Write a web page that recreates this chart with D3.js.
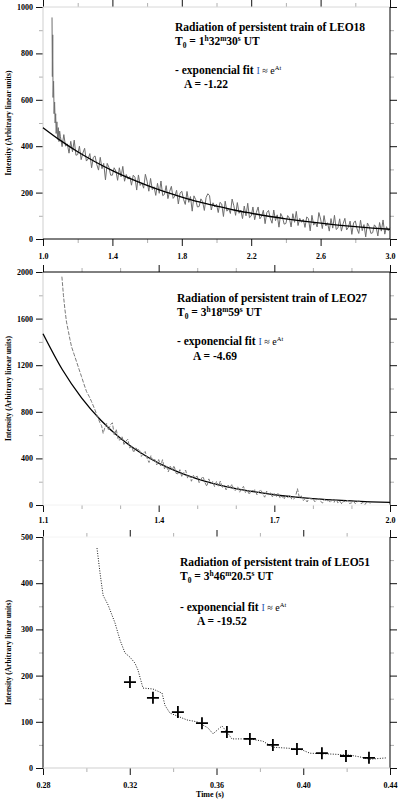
<!DOCTYPE html>
<html>
<head>
<meta charset="utf-8">
<script src="https://cdn.jsdelivr.net/npm/d3@7"></script>
<style>
  body { margin: 0; background: #fff; }
  svg { display: block; font-family: "Liberation Serif", "DejaVu Serif", serif; }
</style>
</head>
<body>
<svg width="398" height="799"></svg>
<script>
// ---------- LEO18 ----------
const leo18Onset = [[1.052, 955], [1.054, 700], [1.056, 880], [1.058, 610], [1.061, 680], [1.064, 540],
  [1.067, 590], [1.070, 500], [1.073, 540], [1.076, 455], [1.080, 505], [1.084, 430], [1.088, 480],
  [1.092, 420], [1.096, 465]];
const leo18Start = 1.10, leo18Step = 0.01;
const leo18Values = [
  443, 398, 450, 400, 410, 370, 421, 376, 426, 361,
  364, 400, 342, 371, 391, 336, 345, 368, 307, 352,
  358, 321, 297, 352, 303, 326, 255, 326, 309, 275,
  275, 307, 293, 253, 307, 268, 313, 249, 278, 258,
  269, 232, 275, 266, 211, 276, 231, 242, 219, 279,
  249, 206, 261, 213, 225, 188, 240, 197, 250, 187,
  192, 230, 174, 205, 227, 175, 185, 210, 151, 198,
  206, 171, 149, 205, 158, 183, 120, 186, 170, 138,
  140, 173, 161, 123, 179, 195, 187, 125, 156, 138,
  150, 114, 158, 151, 97, 163, 120, 132, 110, 172,
  143, 102, 157, 111, 124, 88, 142, 100, 154, 92,
  99, 138, 83, 115, 138, 87, 98, 124, 66, 114,
  123, 89, 68, 125, 79, 104, 51, 110, 95, 64,
  67, 101, 90, 52, 109, 72, 119, 58, 89, 72,
  85, 50, 95, 88, 35, 102, 60, 73, 52, 114,
  86, 45, 101, 56, 70, 34, 88, 47, 102, 41,
  48, 87, 34, 66, 89, 39, 51, 77, 20, 69,
  78, 44, 24, 81, 36, 62, 9, 69, 54, 24,
  27, 61, 51, 13, 71, 34, 82, 21, 53, 36,
  50];
const leo18FitStart = 1.0, leo18FitStep = 0.1;
const leo18Fit = [480, 425, 376, 333, 295, 261, 231, 204, 181, 160, 142, 125, 111, 98, 87, 77, 68, 60, 53, 47, 42];
const leo18XMajor = [1.0, 1.4, 1.8, 2.2, 2.6, 3.0];
const leo18XMinor = [1.2, 1.6, 2.0, 2.4, 2.8];
const leo18YMajor = [0, 200, 400, 600, 800, 1000];
const leo18YMinor = [100, 300, 500, 700, 900];

// ---------- LEO27 ----------
const leo27Onset = [[1.149, 1960], [1.153, 1800], [1.157, 1674], [1.161, 1570], [1.166, 1488], [1.170, 1420],
  [1.174, 1359], [1.181, 1290], [1.187, 1230], [1.194, 1160], [1.200, 1101], [1.207, 1030], [1.213, 973],
  [1.220, 930], [1.226, 887], [1.235, 815], [1.241, 760], [1.248, 704], [1.252, 680], [1.256, 615]];
const leo27Start = 1.26, leo27Step = 0.005;
const leo27Values = [
  660, 700, 640, 690, 705, 598, 650, 560,
  558, 588, 520, 549, 564, 490, 505, 451, 495, 474,
  477, 417, 442, 459, 402, 365, 423, 378, 392, 344,
  390, 337, 389, 311, 338, 285, 333, 301, 337, 272,
  267, 303, 242, 278, 299, 231, 253, 204, 254, 239,
  247, 192, 223, 245, 193, 160, 224, 183, 202, 157,
  202, 162, 206, 146, 170, 130, 171, 147, 178, 128,
  127, 158, 110, 141, 160, 107, 126, 90, 131, 120,
  130, 87, 112, 132, 92, 67, 119, 89, 105, 70,
  98, 69, 103, 59, 78, 50, 81, 64, 88, 52,
  49, 73, 140, 62, 78, 39, 54, 26, 59, 52,
  54, 28, 45, 57, 32, 17, 50, 31, 41, 21,
  47, 23, 52, 17, 33, 9, 36, 22, 43, 13,
  18, 34, 11, 27, 37, 12, 22, 4, 26, 21,
  17];
const leo27FitStart = 1.10, leo27FitStep = 0.05;
const leo27Fit = [1470, 1163, 920, 728, 576, 455, 360, 285, 225, 178, 141, 112, 88, 70, 55, 44, 35, 27, 22];
const leo27XMajor = [1.1, 1.4, 1.7, 2.0];
const leo27XMinor = [1.2, 1.3, 1.5, 1.6, 1.8, 1.9];
const leo27YMajor = [0, 400, 800, 1200, 1600, 2000];
const leo27YMinor = [200, 600, 1000, 1400, 1800];

// ---------- LEO51 ----------
const leo51Time = [0.3049, 0.3063, 0.3077, 0.3100, 0.3132, 0.3155, 0.3178, 0.3201, 0.3224, 0.3238, 0.3261,
  0.3307, 0.3349, 0.3362, 0.3385, 0.3464, 0.3510, 0.3560, 0.3584, 0.3625, 0.3648, 0.3671, 0.3754, 0.3814,
  0.3860, 0.3925, 0.3985, 0.4031, 0.4137, 0.4215, 0.4261, 0.4307, 0.4386];
const leo51Values = [476, 422, 374, 353, 314, 277, 249, 240, 227, 212, 173,
  171, 162, 136, 119, 104, 100, 87, 74, 91, 78, 63, 63, 58,
  45, 43, 41, 32, 30, 28, 24, 19, 22];
const leo51FitTime = [0.3201, 0.3307, 0.3422, 0.3533, 0.3648, 0.3754, 0.3860, 0.3971, 0.4086, 0.4197, 0.4303];
const leo51Fit = [186, 152, 121, 97, 78, 63, 50, 41, 32, 26, 22];
const leo51XMajor = [0.28, 0.32, 0.36, 0.40, 0.44];
const leo51XMinor = [0.30, 0.34, 0.38, 0.42];
const leo51YMajor = [0, 100, 200, 300, 400, 500];
const leo51YMinor = [50, 150, 250, 350, 450];

const svg = d3.select('svg');

function drawFrame(x, y, opt) {
  const [x0, x1] = x.range();
  const [yb, yt] = y.range();
  const g = svg.append('g');

  // minor ticks first, then major ticks with labels (all outward)
  const sides = [
    {make: () => d3.axisBottom(x), tr: `translate(0,${yb})`, minor: opt.xMinor, major: opt.xMajor, fmt: opt.xFmt, pad: opt.xPad},
    {make: () => d3.axisTop(x), tr: `translate(0,${yt})`, minor: opt.xMinor, major: opt.xMajor},
    {make: () => d3.axisLeft(y), tr: `translate(${x0},0)`, minor: opt.yMinor, major: opt.yMajor, fmt: d3.format('d'), pad: 3},
    {make: () => d3.axisRight(y), tr: `translate(${x1},0)`, minor: opt.yMinor, major: opt.yMajor}
  ];
  sides.forEach(s => {
    g.append('g').attr('transform', s.tr)
      .call(s.make().tickValues(s.minor).tickSize(4).tickFormat(''))
      .call(a => a.select('.domain').remove())
      .call(a => a.selectAll('line').attr('stroke', '#b0b0b0'));
    const maj = g.append('g').attr('transform', s.tr)
      .call(s.make().tickValues(s.major).tickSize(7).tickPadding(s.pad || 3).tickFormat(s.fmt || (() => '')))
      .attr('font-family', null)
      .attr('font-size', 8)
      .attr('font-weight', 'bold');
    maj.select('.domain').remove();
    maj.selectAll('line').attr('stroke', '#111');
    maj.selectAll('text').attr('fill', '#000');
  });

  // frame lines
  const lines = [
    [x0, yt, x0, yb, opt.left], [x0, yt, x1, yt, opt.top],
    [x1, yt, x1, yb, opt.right], [x0, yb, x1, yb, opt.bottom]
  ];
  g.selectAll('line.frame').data(lines).join('line')
    .attr('class', 'frame')
    .attr('x1', d => d[0]).attr('y1', d => d[1])
    .attr('x2', d => d[2]).attr('y2', d => d[3])
    .attr('stroke', d => d[4]).attr('stroke-width', 1);

  // y title
  svg.append('text')
    .attr('transform', `translate(8,${(yb + yt) / 2}) rotate(-90)`)
    .attr('text-anchor', 'middle')
    .attr('dominant-baseline', 'central')
    .attr('font-size', 7.5)
    .attr('font-weight', 'bold')
    .text('Intensity (Arbitrary linear units)');
}

// text line made from parts: [text, mode, style]
function richLine(x, y, parts, size) {
  const t = svg.append('text').attr('x', x).attr('y', y).attr('font-size', size);
  let off = 0;
  parts.forEach(p => {
    const [txt, mode, style] = p;
    let target = 0, fs = size;
    if (mode === 'sup') { target = -size * 0.38; fs = size * 0.65; }
    if (mode === 'sub') { target = size * 0.22; fs = size * 0.65; }
    const sp = t.append('tspan')
      .attr('dy', target - off)
      .attr('font-size', fs)
      .text(txt);
    off = target;
    if (style && style.normal) sp.attr('font-weight', 'normal');
    else sp.attr('font-weight', 'bold');
    if (style && style.fill) sp.attr('fill', style.fill);
    if (style && style.size) sp.attr('font-size', style.size * (mode ? 0.65 : 1));
  });
  return t;
}

function annotate(x, ys, ax, name, t0, aval) {
  const fs = 11.5;
  richLine(x, ys[0], [[`Radiation of persistent train of ${name}`, '']], fs);
  richLine(x, ys[1], [['T', ''], ['0', 'sub']].concat(t0).concat([[' UT', '']]), fs);
  richLine(x, ys[2], [['- exponencial fit ', ''], ['I', '', {normal: true, fill: '#2a5bb5', size: 10}],
    [' \u2248 e', '', {normal: true, size: 10}], ['At', 'sup', {normal: true, size: 10}]], fs);
  richLine(ax, ys[3], [[`A = ${aval}`, '']], fs);
}

// ---------- panel 1 ----------
{
  const x = d3.scaleLinear().domain([1.0, 3.0]).range([43, 390]);
  const y = d3.scaleLinear().domain([0, 1000]).range([239, 7]);
  drawFrame(x, y, {xMajor: leo18XMajor, xMinor: leo18XMinor, yMajor: leo18YMajor, yMinor: leo18YMinor,
    xFmt: d3.format('.1f'), xPad: 7, left: '#cfcfcf', top: '#d8d8d8', right: '#000', bottom: '#000'});
  const pts = leo18Onset.concat(leo18Values.map((v, i) => [leo18Start + i * leo18Step, v]));
  svg.append('path').datum(pts)
    .attr('fill', 'none').attr('stroke', '#6e6e6e').attr('stroke-width', 1)
    .attr('d', d3.line().x(d => x(d[0])).y(d => y(d[1])));
  svg.append('path').datum(leo18Fit.map((v, i) => [leo18FitStart + i * leo18FitStep, v]))
    .attr('fill', 'none').attr('stroke', '#000').attr('stroke-width', 1.3)
    .attr('d', d3.line().curve(d3.curveMonotoneX).x(d => x(d[0])).y(d => y(d[1])));
  annotate(175, [31, 45, 74, 88], 184, 'LEO18',
    [[' = 1', ''], ['h', 'sup'], ['32', ''], ['m', 'sup'], ['30', ''], ['s', 'sup']], '-1.22');
}

// ---------- panel 2 ----------
{
  const x = d3.scaleLinear().domain([1.1, 2.0]).range([43, 390]);
  const y = d3.scaleLinear().domain([0, 2000]).range([505, 272]);
  drawFrame(x, y, {xMajor: leo27XMajor, xMinor: leo27XMinor, yMajor: leo27YMajor, yMinor: leo27YMinor,
    xFmt: d3.format('.1f'), xPad: 5, left: '#cfcfcf', top: '#000', right: '#000', bottom: '#f2f2f2'});
  svg.append('path').datum(leo27Fit.map((v, i) => [leo27FitStart + i * leo27FitStep, v]))
    .attr('fill', 'none').attr('stroke', '#000').attr('stroke-width', 1.3)
    .attr('d', d3.line().curve(d3.curveMonotoneX).x(d => x(d[0])).y(d => y(d[1])));
  const pts = leo27Onset.concat(leo27Values.map((v, i) => [leo27Start + i * leo27Step, v]));
  svg.append('path').datum(pts)
    .attr('fill', 'none').attr('stroke', '#7c7c7c').attr('stroke-width', 1)
    .attr('stroke-dasharray', '4,1.5')
    .attr('d', d3.line().x(d => x(d[0])).y(d => y(d[1])));
  annotate(177, [302, 316, 345, 360], 193, 'LEO27',
    [[' = 3', ''], ['h', 'sup'], ['18', ''], ['m', 'sup'], ['59', ''], ['s', 'sup']], '-4.69');
}

// ---------- panel 3 ----------
{
  const x = d3.scaleLinear().domain([0.28, 0.44]).range([43, 390]);
  const y = d3.scaleLinear().domain([0, 500]).range([768, 537]);
  drawFrame(x, y, {xMajor: leo51XMajor, xMinor: leo51XMinor, yMajor: leo51YMajor, yMinor: leo51YMinor,
    xFmt: d3.format('.2f'), xPad: 7, left: '#000', top: '#f4f4f4', right: '#000', bottom: '#cfcfcf'});
  svg.append('path').datum(leo51Time.map((t, i) => [t, leo51Values[i]]))
    .attr('fill', 'none').attr('stroke', '#000').attr('stroke-width', 0.9)
    .attr('stroke-dasharray', '1,1.5')
    .attr('d', d3.line().x(d => x(d[0])).y(d => y(d[1])));
  svg.append('g').selectAll('path')
    .data(leo51FitTime.map((t, i) => [t, leo51Fit[i]]))
    .join('path')
    .attr('transform', d => `translate(${x(d[0])},${y(d[1])})`)
    .attr('d', 'M-6,0H6M0,-6V6')
    .attr('stroke', '#000').attr('stroke-width', 1.8).attr('fill', 'none');
  annotate(180, [566, 580, 611, 625], 197, 'LEO51',
    [[' = 3', ''], ['h', 'sup'], ['46', ''], ['m', 'sup'], ['20.5', ''], ['s', 'sup']], '-19.52');
  svg.append('text')
    .attr('x', 210).attr('y', 797)
    .attr('text-anchor', 'middle')
    .attr('font-size', 8).attr('font-weight', 'bold')
    .text('Time (s)');
}
</script>
</body>
</html>
